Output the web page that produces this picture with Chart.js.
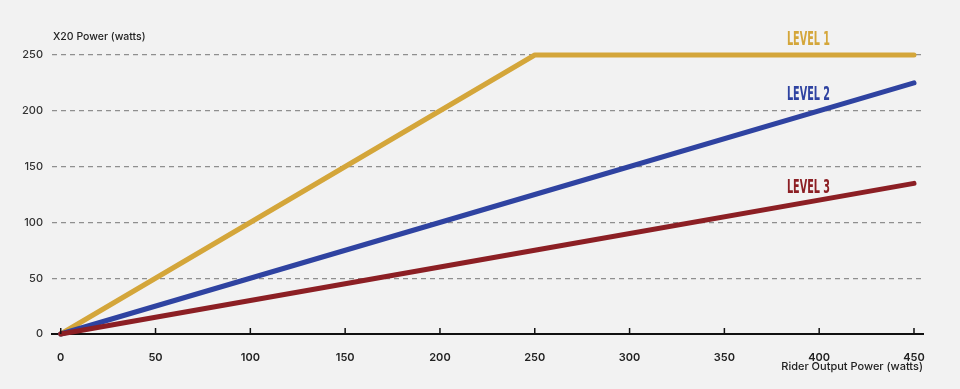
<!DOCTYPE html>
<html>
<head>
<meta charset="utf-8">
<script src="https://cdn.jsdelivr.net/npm/chart.js@4.4.0/dist/chart.umd.min.js"></script>
<style>
  html, body { margin: 0; padding: 0; background: #f2f2f2; }
  #wrap { width: 960px; height: 389px; }
</style>
</head>
<body>
<div id="wrap"><canvas id="power-chart" width="960" height="389"></canvas></div>
<script>
// rider output power (watts) and X20 power per level
const riderPower = [0, 250, 450];
const level1 = [0, 250, 250];
const level2 = [0, 125, 225];
const level3 = [0, 75, 135];
const xTicks = [0, 50, 100, 150, 200, 250, 300, 350, 400, 450];
const yTicks = [0, 50, 100, 150, 200, 250];

const levelNames = ['LEVEL 1', 'LEVEL 2', 'LEVEL 3'];
const levelColors = ['#d4a63a', '#2f43a1', '#8c1f24'];
// where each level name sits, in data units (x, baseline y)
const labelX = [383, 383, 383];
const labelY = [259, 210, 126];

const toPoints = (ys) => riderPower.map((x, i) => ({ x, y: ys[i] }));

const tickMarks = {
  id: 'tickMarks',
  afterDraw(chart) {
    const { ctx, scales: { x, y } } = chart;
    const base = y.getPixelForValue(0);
    ctx.save();
    ctx.strokeStyle = '#111';
    ctx.lineWidth = 1.5;
    xTicks.forEach(v => {
      const px = x.getPixelForValue(v);
      ctx.beginPath();
      ctx.moveTo(px, base - 6);
      ctx.lineTo(px, base);
      ctx.stroke();
    });

    // y axis title, top left
    ctx.fillStyle = '#222';
    ctx.font = '500 10.5px Inter';
    ctx.textAlign = 'left';
    ctx.textBaseline = 'middle';
    ctx.fillText('X20 Power (watts)', chart.chartArea.left + 1, 37);

    // condensed level names
    ctx.font = 'bold 20px "DejaVu Sans Condensed", "DejaVu Sans"';
    ctx.textBaseline = 'alphabetic';
    levelNames.forEach((name, i) => {
      const w = ctx.measureText(name).width;
      const sx = 43 / w;
      ctx.save();
      ctx.translate(x.getPixelForValue(labelX[i]), y.getPixelForValue(labelY[i]));
      ctx.scale(sx, 1);
      ctx.fillStyle = levelColors[i];
      ctx.fillText(name, 0, 0);
      ctx.restore();
    });
    ctx.restore();
  }
};

const ctx = document.getElementById('power-chart').getContext('2d');

new Chart(ctx, {
  type: 'line',
  data: {
    datasets: [level1, level2, level3].map((ys, i) => ({
      label: levelNames[i],
      data: toPoints(ys),
      borderColor: levelColors[i],
      borderWidth: 5,
      borderCapStyle: 'round',
      borderJoinStyle: 'round',
      pointRadius: 0,
      tension: 0,
      clip: 10
    })).reverse()
  },
  options: {
    responsive: false,
    animation: false,
    layout: { padding: { top: 55, right: 37, left: 0, bottom: 0 } },
    plugins: {
      legend: { display: false },
      tooltip: { enabled: false }
    },
    scales: {
      x: {
        type: 'linear',
        min: -4.6,
        max: 454.75,
        afterBuildTicks: (scale) => { scale.ticks = xTicks.map(value => ({ value })); },
        afterFit: (scale) => { scale.height = 55; },
        grid: { display: false },
        border: { display: true, color: '#111', width: 2 },
        ticks: {
          color: '#222',
          padding: 9,
          maxRotation: 0,
          font: { family: 'Inter', size: 11, weight: 600 }
        },
        title: {
          display: true,
          text: 'Rider Output Power (watts)',
          align: 'end',
          color: '#222',
          padding: { top: 0, bottom: 16 },
          font: { family: 'Inter', size: 11, weight: 500 }
        }
      },
      y: {
        min: 0,
        max: 250,
        afterBuildTicks: (scale) => { scale.ticks = yTicks.map(value => ({ value })); },
        afterFit: (scale) => { scale.width = 52; },
        border: { display: false, dash: [5, 4] },
        grid: {
          color: '#8f8f8f',
          lineWidth: 1.2,
          drawTicks: false
        },
        ticks: {
          color: '#333',
          padding: 9,
          font: { family: 'Inter', size: 11, weight: 500 }
        }
      }
    }
  },
  plugins: [tickMarks]
});
</script>
</body>
</html>
